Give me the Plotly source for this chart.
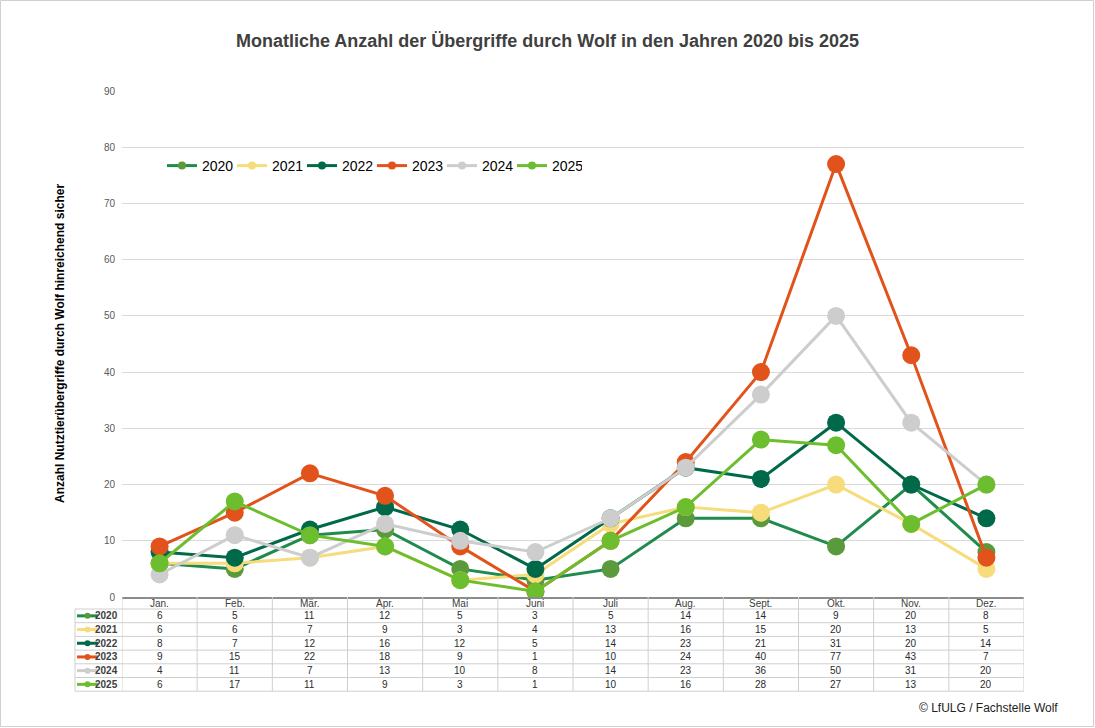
import plotly.graph_objects as go

# Data (Übergriffe je Monat)
months = ["Jan.", "Feb.", "Mär.", "Apr.", "Mai", "Juni",
          "Juli", "Aug.", "Sept.", "Okt.", "Nov.", "Dez."]
years = ["2020", "2021", "2022", "2023", "2024", "2025"]

y2020 = [6, 5, 11, 12, 5, 3, 5, 14, 14, 9, 20, 8]
y2021 = [6, 6, 7, 9, 3, 4, 13, 16, 15, 20, 13, 5]
y2022 = [8, 7, 12, 16, 12, 5, 14, 23, 21, 31, 20, 14]
y2023 = [9, 15, 22, 18, 9, 1, 10, 24, 40, 77, 43, 7]
y2024 = [4, 11, 7, 13, 10, 8, 14, 23, 36, 50, 31, 20]
y2025 = [6, 17, 11, 9, 3, 1, 10, 16, 28, 27, 13, 20]

series = [y2020, y2021, y2022, y2023, y2024, y2025]

# line colour, marker colour
line_colors = ["#1f8b4c", "#f6dc7a", "#00694a", "#e2531c", "#cdcdcd", "#6cbe2e"]
marker_colors = ["#5b9a3c", "#f6dc7a", "#00694a", "#e2531c", "#cdcdcd", "#6cbe2e"]

FONT = "Liberation Sans, Arial, sans-serif"
W, H = 1095, 728
L, R, T, B = 122, 71, 91, 131
PW = W - L - R
PH = H - T - B


def px_x(px):
    return (px - L) / PW


def px_y(py):
    return (H - B - py) / PH


fig = go.Figure()

for i, yr in enumerate(years):
    fig.add_trace(go.Scatter(x=months, y=series[i], mode="lines+markers",
                             name=yr, legendgroup=yr, showlegend=False,
                             line=dict(color=line_colors[i], width=3),
                             marker=dict(color=marker_colors[i], size=18)))
    # small legend entries
    fig.add_trace(go.Scatter(x=[None], y=[None], mode="lines+markers",
                             name=yr, legendgroup=yr,
                             line=dict(color=line_colors[i], width=3),
                             marker=dict(color=marker_colors[i], size=8)))

shapes = []
annotations = []

# Data table below the chart
header_h = 12
row_h = 13.7
top = H - B
grid = "#cfcfcf"

# header row
for j, m in enumerate(months):
    annotations.append(dict(x=m, y=px_y(top + header_h / 2), xref="x", yref="paper",
                            text=m, showarrow=False, yanchor="middle",
                            font=dict(size=10, color="#404040", family=FONT)))

bottom = top + header_h + row_h * len(years)
for j in range(len(months) + 1):
    shapes.append(dict(type="line", xref="x", yref="paper",
                       x0=j - 0.5, x1=j - 0.5, y0=px_y(top), y1=px_y(bottom),
                       line=dict(color=grid, width=1)))

shapes.append(dict(type="line", xref="paper", yref="paper",
                   x0=px_x(75), x1=px_x(75), y0=px_y(top + header_h), y1=px_y(bottom),
                   line=dict(color=grid, width=1)))

for r in range(len(years) + 1):
    yy = px_y(top + header_h + r * row_h)
    shapes.append(dict(type="line", xref="paper", yref="paper",
                       x0=px_x(75), x1=1, y0=yy, y1=yy,
                       line=dict(color=grid, width=1)))

for i, yr in enumerate(years):
    yc = px_y(top + header_h + (i + 0.5) * row_h)
    for j, m in enumerate(months):
        annotations.append(dict(x=m, y=yc, xref="x", yref="paper",
                                text=str(series[i][j]), showarrow=False,
                                yanchor="middle",
                                font=dict(size=10, color="#2b2b2b", family=FONT)))
    annotations.append(dict(x=px_x(120), y=yc, xref="paper", yref="paper",
                            text="<b>" + yr + "</b>", showarrow=False,
                            xanchor="right", yanchor="middle",
                            font=dict(size=10, color="#404040", family=FONT)))
    # legend key in the table
    shapes.append(dict(type="line", xref="paper", yref="paper",
                       x0=px_x(77), x1=px_x(98), y0=yc, y1=yc,
                       line=dict(color=line_colors[i], width=3)))
    shapes.append(dict(type="circle", xref="paper", yref="paper",
                       x0=px_x(84.5), x1=px_x(90.5),
                       y0=yc - 3 / PH, y1=yc + 3 / PH,
                       fillcolor=marker_colors[i], line=dict(width=0)))

# outer border of the image
shapes.append(dict(type="rect", xref="paper", yref="paper",
                   x0=px_x(0.5), x1=px_x(W - 1.5), y0=px_y(H - 1.5), y1=px_y(0.5),
                   line=dict(color="#d0d0d0", width=1)))

annotations.append(dict(x=px_x(1060), y=px_y(708), xref="paper", yref="paper",
                        text="© LfULG / Fachstelle Wolf", showarrow=False,
                        xanchor="right", yanchor="middle",
                        font=dict(size=12, color="#222222", family=FONT)))

annotations.append(dict(x=px_x(60), y=0.5, xref="paper", yref="paper",
                        text="<b>Anzahl Nutztierübergriffe durch Wolf hinreichend sicher</b>",
                        textangle=-90, showarrow=False,
                        xanchor="center", yanchor="middle",
                        font=dict(size=12, color="#000000", family=FONT)))

fig.update_layout(
    width=W, height=H,
    margin=dict(l=L, r=R, t=T, b=B),
    paper_bgcolor="white", plot_bgcolor="white",
    font=dict(family=FONT),
    title=dict(text="<b>Monatliche Anzahl der Übergriffe durch Wolf in den Jahren 2020 bis 2025</b>",
               x=0.5, xanchor="center", y=1 - 41 / H, yanchor="middle",
               font=dict(size=18, color="#404040", family=FONT)),
    legend=dict(orientation="h", x=px_x(162), y=px_y(166), xanchor="left", yanchor="middle",
                font=dict(size=14, color="#000000", family=FONT),
                bgcolor="rgba(0,0,0,0)", itemwidth=30,
                entrywidth=25, entrywidthmode="pixels"),
    xaxis=dict(type="category", categoryarray=months, range=[-0.5, 11.5],
               showticklabels=False, showgrid=False, zeroline=False,
               showline=True, linecolor="#8c8c8c", linewidth=1.5, ticks=""),
    yaxis=dict(range=[0, 90], dtick=10, showgrid=True, gridcolor="#d9d9d9",
               zeroline=False, showline=False, ticks="",
               tickfont=dict(size=10, color="#595959", family=FONT),
               ticklabelstandoff=6),
    shapes=shapes,
    annotations=annotations,
)

# page body has a default margin; drop it so the figure sits at 0,0
fig.write_html("out.html", config={"displayModeBar": False},
               post_script="document.body.style.margin='0';")
